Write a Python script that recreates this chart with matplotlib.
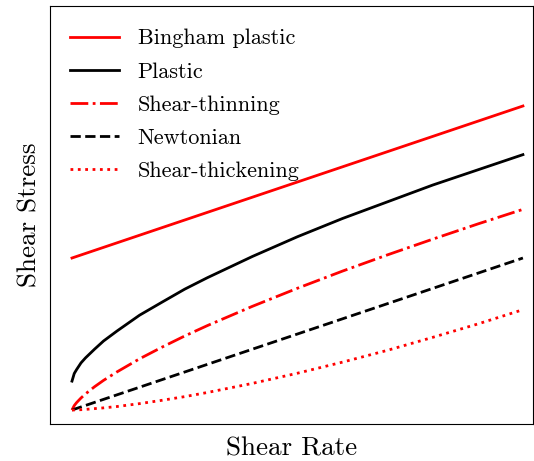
import matplotlib
matplotlib.use("Agg")
import matplotlib.pyplot as plt

plt.rcParams['font.family'] = 'serif'
plt.rcParams['font.serif'] = ['cmr10']
plt.rcParams['mathtext.fontset'] = 'cm'
plt.rcParams['axes.formatter.use_mathtext'] = True

# shear rate (arbitrary units) and the read-off stresses
rate = [0, 0.005, 0.01, 0.02, 0.03, 0.05, 0.07, 0.1, 0.15, 0.2, 0.25, 0.3,
        0.4, 0.5, 0.6, 0.7, 0.8, 0.9, 1.0]
bingham = [1.0, 1.005, 1.01, 1.02, 1.03, 1.05, 1.07, 1.1, 1.15, 1.2, 1.25, 1.3,
           1.4, 1.5, 1.6, 1.7, 1.8, 1.9, 2.0]
plastic = [0.19, 0.24, 0.265, 0.31, 0.343, 0.40, 0.454, 0.52, 0.624, 0.71, 0.795, 0.87,
           1.01, 1.14, 1.26, 1.37, 1.48, 1.58, 1.68]
thinning = [0.0, 0.029, 0.048, 0.079, 0.106, 0.153, 0.195, 0.251, 0.337, 0.414, 0.487, 0.555,
            0.682, 0.801, 0.914, 1.021, 1.124, 1.224, 1.32]
newtonian = [0.0, 0.005, 0.01, 0.02, 0.03, 0.05, 0.07, 0.1, 0.15, 0.2, 0.25, 0.3,
             0.4, 0.5, 0.6, 0.7, 0.8, 0.9, 1.0]
thickening = [0.0, 0.0, 0.001, 0.002, 0.004, 0.009, 0.014, 0.023, 0.042, 0.064, 0.088, 0.115,
              0.175, 0.242, 0.315, 0.393, 0.478, 0.566, 0.66]

fig = plt.figure(figsize=(5.34, 4.61), dpi=100)
ax = fig.add_axes([0.0936, 0.0803, 0.9044, 0.9067])

ax.plot(rate, bingham, color='red', ls='-', lw=2, label='Bingham plastic')
ax.plot(rate, plastic, color='black', ls='-', lw=2, label='Plastic')
ax.plot(rate, thinning, color='red', ls='-.', lw=2, label='Shear-thinning')
ax.plot(rate, newtonian, color='black', ls='--', lw=2, label='Newtonian')
ax.plot(rate, thickening, color='red', ls=':', lw=2, label='Shear-thickening')

ax.set_xlim(-0.0488, 1.0222)
ax.set_ylim(-0.092, 2.658)
ax.set_xticks([])
ax.set_yticks([])
ax.set_xlabel('Shear Rate', fontsize=19.5, labelpad=9.5)
ax.set_ylabel('Shear Stress', fontsize=19.5, labelpad=6)

ax.legend(loc='upper left', bbox_to_anchor=(0, 0.993), frameon=False, fontsize=16,
          handlelength=2.2, handletextpad=0.85, labelspacing=0.61)

fig.savefig('out.png', dpi=100)
